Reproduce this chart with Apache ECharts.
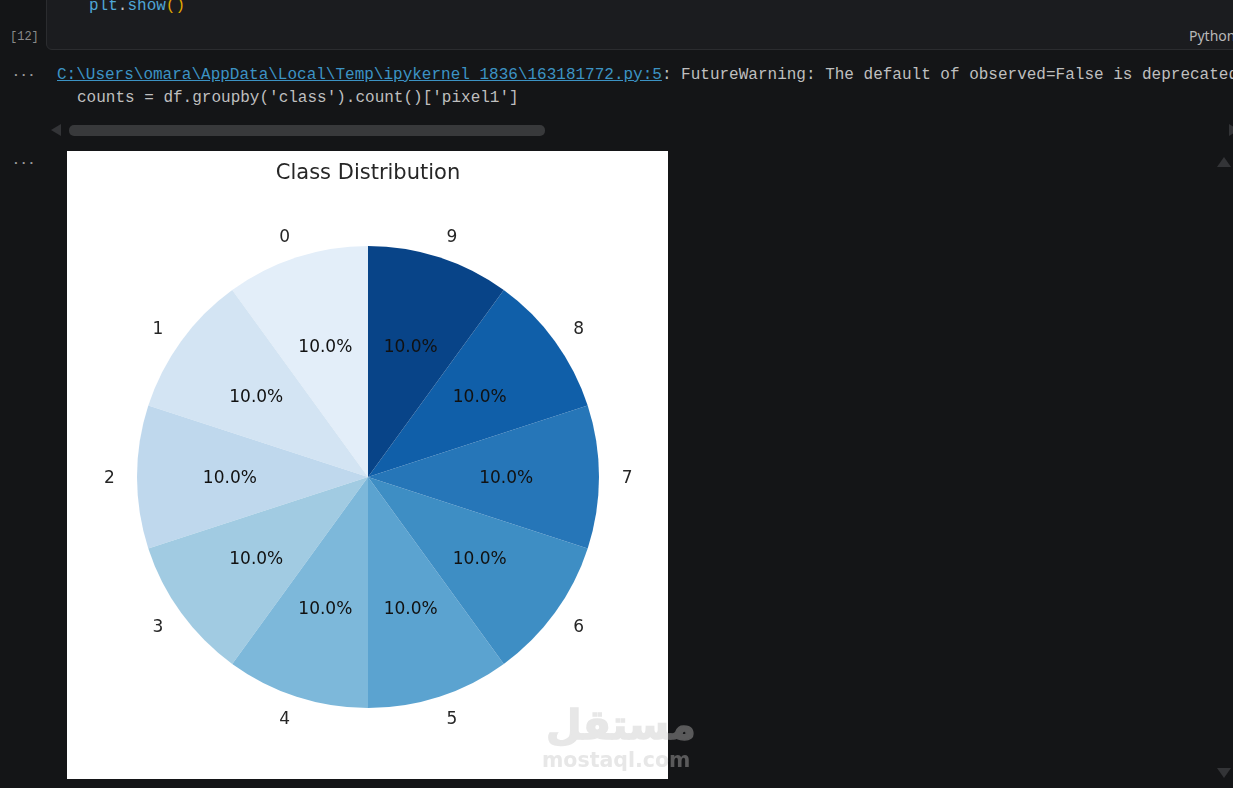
<!DOCTYPE html>
<html>
<head>
<meta charset="utf-8">
<title>Class Distribution</title>
<script src="https://cdn.jsdelivr.net/npm/echarts@6/dist/echarts.min.js"></script>
<style>
html,body{margin:0;padding:0;width:1233px;height:788px;overflow:hidden;background:#141517;}
#shell{position:relative;width:1233px;height:788px;overflow:hidden;font-family:"Liberation Mono",monospace;font-size:16px;color:#bfbfbf;}
.abs{position:absolute;white-space:pre;line-height:20px;}
#cell{position:absolute;left:46px;top:-20px;width:1200px;height:70px;background:#1b1c1f;border:1px solid #2b2c2f;border-radius:6px;box-sizing:border-box;}
.link{color:#3c93c4;text-decoration:underline;}
.tri{position:absolute;width:0;height:0;}
#main{position:absolute;left:67px;top:151px;width:601px;height:628px;}
.wm{position:absolute;top:695px;height:85px;overflow:hidden;font-family:"DejaVu Sans",sans-serif;font-weight:bold;}
.wm div{position:absolute;top:0;white-space:nowrap;}
.ar{font-size:41px;line-height:58px;text-align:center;width:150px;-webkit-text-stroke:1.5px currentColor;}
.la{font-size:20.5px;line-height:30px;}
</style>
</head>
<body>
<div id="shell">
  <div id="cell"></div>
  <div class="abs" style="left:89px;top:-4px;"><span style="color:#4fa6d6;">plt</span>.<span style="color:#4fa6d6;">show</span><span style="color:#e0a800;">()</span></div>
  <div class="abs" style="left:10px;top:27px;font-size:12px;color:#8a8a8a;">[12]</div>
  <div class="abs" style="left:1189px;top:26px;font-family:'Noto Sans',sans-serif;font-size:14px;color:#b8b8b8;">Python</div>
  <div class="abs" style="left:12px;top:63px;font-size:13px;color:#9a9a9a;font-weight:bold;">...</div>
  <div class="abs" style="left:57px;top:65px;"><span class="link">C:\Users\omara\AppData\Local\Temp\ipykernel_1836\163181772.py:5</span>: FutureWarning: The default of observed=False is deprecated</div>
  <div class="abs" style="left:77px;top:88px;">counts = df.groupby('class').count()['pixel1']</div>
  <div class="tri" style="left:51px;top:124px;border-top:6px solid transparent;border-bottom:6px solid transparent;border-right:10px solid #333437;"></div>
  <div style="position:absolute;left:69px;top:125px;width:476px;height:11px;border-radius:5px;background:#38393b;"></div>
  <div class="tri" style="left:1229px;top:124px;border-top:6px solid transparent;border-bottom:6px solid transparent;border-left:10px solid #333437;"></div>
  <div class="abs" style="left:12px;top:151px;font-size:13px;color:#9a9a9a;font-weight:bold;">...</div>
  <div class="tri" style="left:1217px;top:157px;border-left:7px solid transparent;border-right:7px solid transparent;border-bottom:10px solid #333437;"></div>
  <div class="tri" style="left:1217px;top:768px;border-left:7px solid transparent;border-right:7px solid transparent;border-top:10px solid #333437;"></div>
  <div id="main"></div>
  <div class="wm" style="left:530px;width:138px;color:#e7e7e7;">
    <div class="ar" dir="rtl" style="left:16px;top:1px;">مستقل</div>
    <div class="la" style="left:12px;top:50px;">mostaql.com</div>
  </div>
  <div class="wm" style="left:668px;width:40px;color:#5a5a5b;">
    <div class="ar" dir="rtl" style="left:-122px;top:1px;">مستقل</div>
    <div class="la" style="left:-126px;top:50px;">mostaql.com</div>
  </div>
</div>
<script>
var classNames = ['0','1','2','3','4','5','6','7','8','9'];
var classCounts = [7000,7000,7000,7000,7000,7000,7000,7000,7000,7000];
var sliceColors = ['#e3eef9','#d3e4f3','#bfd8ed','#a1cbe2','#7db8da','#5ba3d0','#3e8ec4','#2676b8','#105fa9','#084488'];

var pieData = [], pctData = [], nameData = [];
for (var i = 0; i < classNames.length; i++) {
    pieData.push({name: classNames[i], value: classCounts[i], itemStyle: {color: sliceColors[i]}});
    pctData.push({name: classNames[i], value: classCounts[i]});
    // names sit beside the rim, left half right-aligned and right half left-aligned
    nameData.push({
        name: classNames[i],
        value: classCounts[i],
        label: {padding: i < 5 ? [0, 10, 0, 0] : [0, 0, 0, 11]}
    });
}

var center = [301, 326];
var labelCenter = [301, 327.5];
var R = 231;
var blank = {color: 'rgba(0,0,0,0)'};
var base = {
    type: 'pie',
    startAngle: 90,
    clockwise: false,
    silent: true,
    animation: false,
    labelLine: {show: false},
    emphasis: {disabled: true}
};

var options = {
    backgroundColor: '#ffffff',
    title: {
        text: 'Class Distribution',
        left: 296,
        top: 7,
        textAlign: 'center',
        textStyle: {fontFamily: 'DejaVu Sans', fontSize: 21, fontWeight: 'normal', color: '#262626'}
    },
    series: [
        Object.assign({}, base, {
            center: center,
            radius: [0, R],
            data: pieData,
            label: {show: false}
        }),
        Object.assign({}, base, {
            center: labelCenter,
            radius: [R * 0.17, R],
            data: pctData,
            itemStyle: blank,
            label: {
                show: true,
                position: 'inside',
                fontFamily: 'DejaVu Sans',
                fontSize: 17,
                color: '#111111',
                formatter: function (p) { return p.percent.toFixed(1) + '%'; }
            }
        }),
        Object.assign({}, base, {
            center: labelCenter,
            radius: [R - 7, R * 1.2],
            data: nameData,
            itemStyle: blank,
            label: {
                show: true,
                position: 'inside',
                fontFamily: 'DejaVu Sans',
                fontSize: 17,
                color: '#262626',
                formatter: '{b}'
            }
        })
    ]
};

var myChart = echarts.init(document.getElementById('main'));
myChart.setOption(options);
</script>
</body>
</html>
